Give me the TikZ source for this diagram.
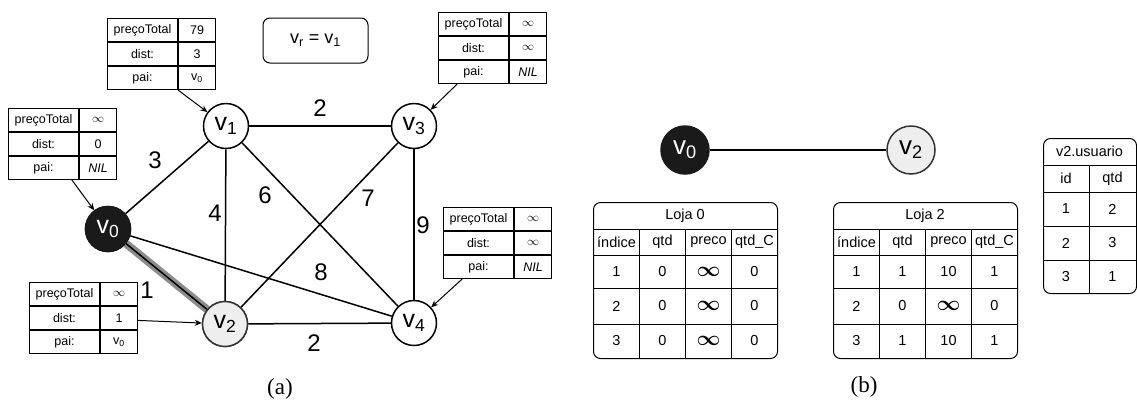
\documentclass[tikz,border=0pt]{standalone}
\usepackage{fontspec}
\setmainfont{Liberation Serif}
\setsansfont{Liberation Sans}
\usepackage{amsmath,bm}
\usetikzlibrary{arrows.meta,calc}
\definecolor{darknode}{HTML}{1A1A1A}
\definecolor{lightnode}{HTML}{EEEEEE}
\definecolor{lightborder}{HTML}{333333}
\definecolor{bandgray}{HTML}{8C8C8C}
\newcommand\fs[1]{\fontsize{#1}{#1}\selectfont}
\newcommand\bigInf{{\fs{22}$\bm{\infty}$}}
\tikzset{
  every node/.style={font=\sffamily},
  vert/.style={circle, draw=black, line width=1.5pt, minimum size=45pt, inner sep=0pt, fill=white, font=\sffamily\fs{25}},
  vdark/.style={vert, fill=darknode, draw=darknode, text=white},
  vlight/.style={vert, fill=lightnode, draw=lightborder},
  bigvert/.style={vert, minimum size=48pt, font=\sffamily\fs{26}},
  edge/.style={line width=1.5pt, draw=black},
  elabel/.style={font=\sffamily\fs{24}, inner sep=0pt},
  cellL/.style={draw=black, line width=1pt, minimum width=70pt, minimum height=23pt, inner sep=0pt, anchor=north west, font=\sffamily\fs{12.5}},
  cellR/.style={cellL, minimum width=37pt},
  ptr/.style={line width=1pt, -{Stealth[length=7pt,width=6pt]}},
  tcell/.style={inner sep=0pt, font=\sffamily\fs{14.5}},
  tline/.style={line width=1pt},
  caption/.style={font=\rmfamily\fs{23}, inner sep=0pt}
}
% small info table: name, top-left, three values
\newcommand\infotab[5]{%
  \node[cellL] (#1-l1) at #2 {preçoTotal};
  \node[cellL] (#1-l2) at (#1-l1.south west) {dist:};
  \node[cellL] (#1-l3) at (#1-l2.south west) {pai:};
  \node[cellR] (#1-r1) at (#1-l1.north east) {#3};
  \node[cellR] (#1-r2) at (#1-l2.north east) {#4};
  \node[cellR] (#1-r3) at (#1-l3.north east) {#5};
}
% store table: name, x offset, title, rows
\newcommand\lojatab[4]{%
  \begin{scope}[xshift=#2]
  \node[draw=black, tline, rounded corners=7pt, minimum width=184pt, minimum height=156pt, inner sep=0pt, anchor=north west] (#1) at (593,202) {};
  \draw[tline] (593,229) -- (777,229);
  \draw[tline] (593,255) -- (777,255);
  \draw[tline] (593,288) -- (777,288);
  \draw[tline] (593,324) -- (777,324);
  \draw[tline] (639.5,229) -- (639.5,358);
  \draw[tline] (685.5,229) -- (685.5,358);
  \draw[tline] (731.5,229) -- (731.5,358);
  \node[tcell] (#1-t) at (685,215.5) {#3};
  \node[tcell] (#1-h1) at (616.5,242) {índice};
  \node[tcell] (#1-h2) at (662.5,242) {qtd};
  \node[tcell] (#1-h3) at (708.5,242) {preco};
  \node[tcell] (#1-h4) at (754.5,242) {qtd\_C};
  \foreach \r/\y/\a/\b/\c/\d in {#4}{
    \node[tcell] (#1-\r-1) at (616.5,\y) {\a};
    \node[tcell] (#1-\r-2) at (662.5,\y) {\b};
    \node[tcell] (#1-\r-3) at (708.5,\y) {\c};
    \node[tcell] (#1-\r-4) at (754.5,\y) {\d};
  }
  \end{scope}
}
\begin{document}
\begin{tikzpicture}[x=1pt, y=-1pt]
\useasboundingbox (0,0) rectangle (1137,405);

% ---------- (a) graph ----------
\node[vdark]  (v0) at (108,229) {v\textsubscript{0}};
\node[vert]   (v1) at (226,126) {v\textsubscript{1}};
\node[vlight] (v2) at (225,324) {v\textsubscript{2}};
\node[vert]   (v3) at (414,126) {v\textsubscript{3}};
\node[vert]   (v4) at (414,323) {v\textsubscript{4}};

\draw[edge] (v0) -- (v1);
\draw[edge] (v0) -- (v4);
\draw[edge] (v1) -- (v2);
\draw[edge] (v1) -- (v3);
\draw[edge] (v1) -- (v4);
\draw[edge] (v2) -- (v3);
\draw[edge] (v2) -- (v4);
\draw[edge] (v3) -- (v4);
\draw[line width=8pt, bandgray] (v0) -- (v2);
\draw[edge] (v0) -- (v2);
% redraw the two end nodes on top of the band
\node[vdark]  at (v0) {v\textsubscript{0}};
\node[vlight] at (v2) {v\textsubscript{2}};

\node[elabel] (w01) at (155,160) {3};
\node[elabel] (w13) at (320,108) {2};
\node[elabel] (w12) at (215,213) {4};
\node[elabel] (w14) at (265,195) {6};
\node[elabel] (w23) at (368,198) {7};
\node[elabel] (w34) at (423,225) {9};
\node[elabel] (w04) at (321,272) {8};
\node[elabel] (w24) at (314,343) {2};
\node[elabel] (w02) at (147,290) {1};

\node[draw=black, line width=1pt, rounded corners=7pt, minimum width=105pt, minimum height=45pt, inner sep=0pt, font=\sffamily\fs{18}] (vr) at (315.5,40.5) {v\textsubscript{r} = v\textsubscript{1}};

\infotab{t1}{(107,18)}{79}{3}{v\textsubscript{0}}
\infotab{t0}{(8,108)}{$\infty$}{0}{\textit{NIL}}
\infotab{t3}{(438,12)}{$\infty$}{$\infty$}{\textit{NIL}}
\infotab{t4}{(443,207)}{$\infty$}{$\infty$}{\textit{NIL}}
\infotab{t2}{(29,282)}{$\infty$}{1}{v\textsubscript{0}}

\draw[ptr] (t1-l3.south east) -- (v1);
\draw[ptr] ($(t0-l3.south west)!0.9!(t0-l3.south east)$) -- (v0);
\draw[ptr] ($(t3-l3.south west)!0.27!(t3-l3.south east)$) -- (v3);
\draw[ptr] ($(t4-l3.south west)!0.27!(t4-l3.south east)$) -- (v4);
\draw[ptr] ($(t2-r2.north east)!0.6!(t2-r2.south east)$) -- (v2);

\node[caption] (capa) at (280,389) {(a)};

% ---------- (b) ----------
\node[bigvert, fill=darknode, draw=darknode, text=white] (b0) at (685,150) {v\textsubscript{0}};
\node[bigvert, fill=lightnode, draw=lightborder] (b2) at (911,150) {v\textsubscript{2}};
\draw[line width=2pt] (b0) -- (b2);

\lojatab{loja0}{0pt}{Loja 0}{1/271.5/1/0/\bigInf/0, 2/306/2/0/\bigInf/0, 3/341/3/0/\bigInf/0}
\lojatab{loja2}{240pt}{Loja 2}{1/271.5/1/1/10/1, 2/306/2/0/\bigInf/0, 3/341/3/1/10/1}

% v2.usuario
\node[draw=black, tline, rounded corners=7pt, minimum width=93pt, minimum height=155pt, inner sep=0pt, anchor=north west] (usr) at (1043,138) {};
\draw[tline] (1043,165) -- (1136,165);
\draw[tline] (1043,192) -- (1136,192);
\draw[tline] (1043,226) -- (1136,226);
\draw[tline] (1043,260) -- (1136,260);
\draw[tline] (1089,165) -- (1089,293);
\node[tcell] (usr-t) at (1089.5,151.5) {v2.usuario};
\node[tcell] (usr-h1) at (1066,178.5) {id};
\node[tcell] (usr-h2) at (1112.5,178.5) {qtd};
\node[tcell] (usr-11) at (1066,209) {1};
\node[tcell] (usr-12) at (1112.5,209) {2};
\node[tcell] (usr-21) at (1066,243) {2};
\node[tcell] (usr-22) at (1112.5,243) {3};
\node[tcell] (usr-31) at (1066,276.5) {3};
\node[tcell] (usr-32) at (1112.5,276.5) {1};

\node[caption] (capb) at (864,387) {(b)};
\end{tikzpicture}
\end{document}
